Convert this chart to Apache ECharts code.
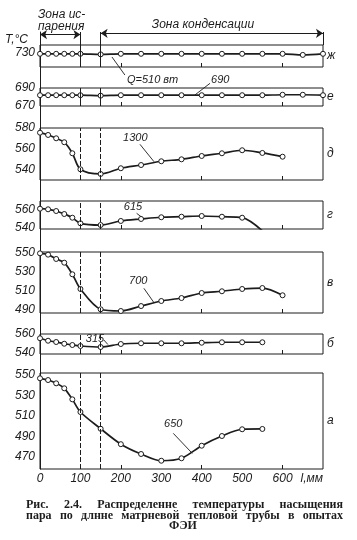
<!DOCTYPE html>
<html><head><meta charset="utf-8">
<script src="https://cdn.jsdelivr.net/npm/echarts@6/dist/echarts.min.js"></script>
<style>html,body{margin:0;padding:0;background:#fff}#c{width:357px;height:540px}</style>
</head><body><div id="c"></div>
<script>
// ---- data (mm positions along the pipe, temperatures in °C) ----
const positionsMm = [0,20,40,60,80,100,150,200,250,300,350,400,450,500,550,600,650,700];
const xTickLabels = ['0','100','200','300','400','500','600','l,мм'];
const panelLetters = ['ж','е','д','г','в','б','а'];
const valuesZh = [729,729,729,729,729,729,728.5,729,729,729,729,729,729,729,729,729,728,729];
const valuesE  = [682,682,682,682,682,682,681.5,682,682,682,682,682,682,682,682,682.5,682.5,682];
const valuesD  = [575.5,573.3,570.1,566.3,555.7,540.3,535.8,541.3,544.4,548,549.9,553.1,555.7,558.6,556,552.4];
const valuesG  = [561.5,560.8,558.9,555.6,551.5,545.3,543.4,547.9,550.1,552,552.6,553.4,552.6,551.5,537];
const valuesV  = [549.6,548.2,543.7,539.8,527.6,512.2,490.9,489.1,494.3,499.6,502.7,508,509.8,512.2,513.2,505.6];
const valuesB  = [555.3,552.6,551.2,549.3,547.9,546.8,545.7,549,549.8,549.8,549.8,550.4,550.9,550.9,550.9];
const valuesA  = [546.8,545.1,541.9,537,526.2,513.8,497.4,482.3,472.7,466.1,468.5,480.8,490.3,496.9,497.2];
const yTicksZh = [720,730];
const yTicksE  = [670,690];
const yTicksD  = [540,560,580];
const yTicksG  = [540,560];
const yTicksV  = [490,510,530,550];
const yTicksB  = [540,560];
const yTicksA  = [470,490,510,530,550];
const zoneLabels = ['Зона ис-','парения','Зона конденсации'];
const powerLabels = ['Q=510 вт','690','1300','615','700','315','650'];
const captionLines = [
  ['Рис.','2.4.','Распределенне','температуры','насыщения'],
  ['пара','по','длнне','матрневой','тепловой','трубы','в','опытах'],
  ['ФЭИ']
];

// ---- layout ----
const INK = '#1c1c1c';
const GL = 40, GW = 283;
const FONT = '"Liberation Sans", Arial, sans-serif';
const layout = [
  {top:45,  h:22, min:717, max:737, vals:valuesZh, ticks:yTicksZh, dash:false},
  {top:88,  h:18, min:670, max:690, vals:valuesE,  ticks:yTicksE,  dash:false},
  {top:128, h:52, min:530, max:580, vals:valuesD,  ticks:yTicksD,  dash:true},
  {top:201, h:28, min:539, max:570, vals:valuesG,  ticks:yTicksG,  dash:true},
  {top:252, h:61, min:487, max:551, vals:valuesV,  ticks:yTicksV,  dash:true},
  {top:334, h:20, min:538, max:560, vals:valuesB,  ticks:yTicksB,  dash:true},
  {top:373, h:96, min:458, max:552, vals:valuesA,  ticks:yTicksA,  dash:true}
];

const grids = [], xAxes = [], yAxes = [], series = [];
// header grid (zone arrows)
grids.push({left:GL, width:GW, top:32, height:13, show:false, containLabel:false, outerBoundsMode:'none'});
xAxes.push({gridIndex:0, type:'value', min:0, max:700, show:false});
yAxes.push({gridIndex:0, type:'value', min:0, max:1, show:false});
series.push({type:'line', xAxisIndex:0, yAxisIndex:0, data:[], animation:false,
  markLine:{silent:true, symbol:['arrow','arrow'], symbolSize:7, label:{show:false},
    lineStyle:{color:INK, width:1, type:'solid'},
    data:[[{coord:[0,0.8]},{coord:[100,0.8]}],[{coord:[150,0.9]},{coord:[700,0.9]}]]}});
series.push({type:'line', xAxisIndex:0, yAxisIndex:0, data:[], animation:false,
  markLine:{silent:true, symbol:'none', label:{show:false},
    lineStyle:{color:INK, width:1, type:'solid'}, data:[{xAxis:100},{xAxis:150},{xAxis:700}]}});

layout.forEach((p, k) => {
  const gi = k + 1;
  const last = k === layout.length - 1;
  grids.push({left:GL, width:GW, top:p.top, height:p.h, show:true, borderColor:INK, borderWidth:1,
    backgroundColor:'transparent', containLabel:false, outerBoundsMode:'none'});
  xAxes.push({gridIndex:gi, type:'value', min:0, max:700, interval:100,
    axisLine:{show:false}, splitLine:{show:false},
    axisTick:{show:true, inside:true, length:4, customValues:[200,400,600], lineStyle:{color:INK, width:1}},
    axisLabel:{show:last, formatter:(v)=>xTickLabels[Math.round(v/100)], fontStyle:'italic', fontSize:12,
      fontFamily:FONT, color:INK, margin:4, alignMaxLabel:'right'}});
  yAxes.push({gridIndex:gi, type:'value', min:p.min, max:p.max,
    axisLine:{show:false}, axisTick:{show:false}, splitLine:{show:false},
    axisLabel:{customValues:p.ticks, fontStyle:'italic', fontSize:12, fontFamily:FONT, color:INK, margin:5}});
  series.push({type:'line', xAxisIndex:gi, yAxisIndex:gi, animation:false, clip:true,
    data:p.vals.map((v,i)=>[positionsMm[i], v]),
    smooth:0.3, symbol:'circle', symbolSize:5, showAllSymbol:true,
    itemStyle:{color:'#fff', borderColor:INK, borderWidth:1},
    lineStyle:{color:INK, width:1.7},
    markLine:{silent:true, symbol:'none', label:{show:false}, animation:false,
      lineStyle:{color:INK, width:1, type:p.dash ? [5,2] : 'solid'},
      data:[{xAxis:100},{xAxis:150}]}});
});
// frame grid: continuous right border
grids.push({left:GL, width:GW, top:32, height:437, show:false, containLabel:false, outerBoundsMode:'none'});
xAxes.push({gridIndex:8, type:'value', min:0, max:1, show:false});
yAxes.push({gridIndex:8, type:'value', min:0, max:1, position:'right',
  axisLine:{show:true, lineStyle:{color:INK, width:1}}, axisTick:{show:false},
  axisLabel:{show:false}, splitLine:{show:false}});

const chart = echarts.init(document.getElementById('c'), null, {renderer:'canvas'});
chart.setOption({backgroundColor:'#fff', animation:false, grid:grids, xAxis:xAxes, yAxis:yAxes, series:series});

// ---- annotations (leader lines, in data units of each panel) ----
const annotations = [
  {g:1, text:powerLabels[0], at:[215,705.6], align:'left',   from:[178,726.1], to:[210,709.7]},
  {g:2, text:powerLabels[1], at:[423,699.4], align:'left',   from:[383,682.2], to:[420.5,695.2]},
  {g:3, text:powerLabels[2], at:[235.7,570.1], align:'center', from:[247.3,564.3], to:[282,547.6]},
  {g:4, text:powerLabels[3], at:[230,563], align:'center',   from:[239,556.4], to:[255.5,550.8]},
  {g:5, text:powerLabels[4], at:[243,520.6], align:'center', from:[257,512.9], to:[282,497.8]},
  {g:6, text:powerLabels[5], at:[136,555], align:'center',   from:[158,553.4], to:[168,548.4]},
  {g:7, text:powerLabels[6], at:[329.7,502], align:'center', from:[329.7,492.9], to:[376.7,473.3]}
];
const gfx = [];
function txt(x, y, text, font, align) {
  return {type:'text', x:x, y:y, silent:true, style:{text:text, font:font, fill:INK,
    align:align||'left', textAlign:align||'left', verticalAlign:'middle', textVerticalAlign:'middle'}};
}
annotations.forEach(a => {
  const p1 = chart.convertToPixel({gridIndex:a.g}, a.from);
  const p2 = chart.convertToPixel({gridIndex:a.g}, a.to);
  const pt = chart.convertToPixel({gridIndex:a.g}, a.at);
  gfx.push({type:'line', silent:true, shape:{x1:p1[0], y1:p1[1], x2:p2[0], y2:p2[1]}, style:{stroke:INK, lineWidth:0.9}});
  gfx.push(txt(pt[0], pt[1], a.text, 'italic 11px ' + FONT, a.align));
});
// panel letters on the right
layout.forEach((p, k) => gfx.push(txt(327, p.top + p.h/2, panelLetters[k], 'italic 12px ' + FONT, 'left')));
// header texts
gfx.push(txt(38, 15, zoneLabels[0], 'italic 12px ' + FONT, 'left'));
gfx.push(txt(38, 27, zoneLabels[1], 'italic 12px ' + FONT, 'left'));
gfx.push(txt(203, 25, zoneLabels[2], 'italic 12px ' + FONT, 'center'));
gfx.push(txt(5, 40, 'T,°C', 'italic 12px ' + FONT, 'left'));
// caption, justified
const CFONT = 'bold 12px "Liberation Serif", "Times New Roman", serif';
const mctx = document.createElement('canvas').getContext('2d');
mctx.font = CFONT;
const capY = [505, 515.5, 526];
captionLines.forEach((words, li) => {
  if (words.length === 1) { gfx.push(txt(183, capY[li], words[0], CFONT, 'center')); return; }
  const w = words.map(s => mctx.measureText(s).width);
  const total = w.reduce((s,v)=>s+v, 0);
  const gap = (343 - 26 - total) / (words.length - 1);
  let x = 26;
  words.forEach((s, i) => { gfx.push(txt(x, capY[li], s, CFONT, 'left')); x += w[i] + gap; });
});
chart.setOption({graphic:{elements:gfx}});
</script></body></html>
